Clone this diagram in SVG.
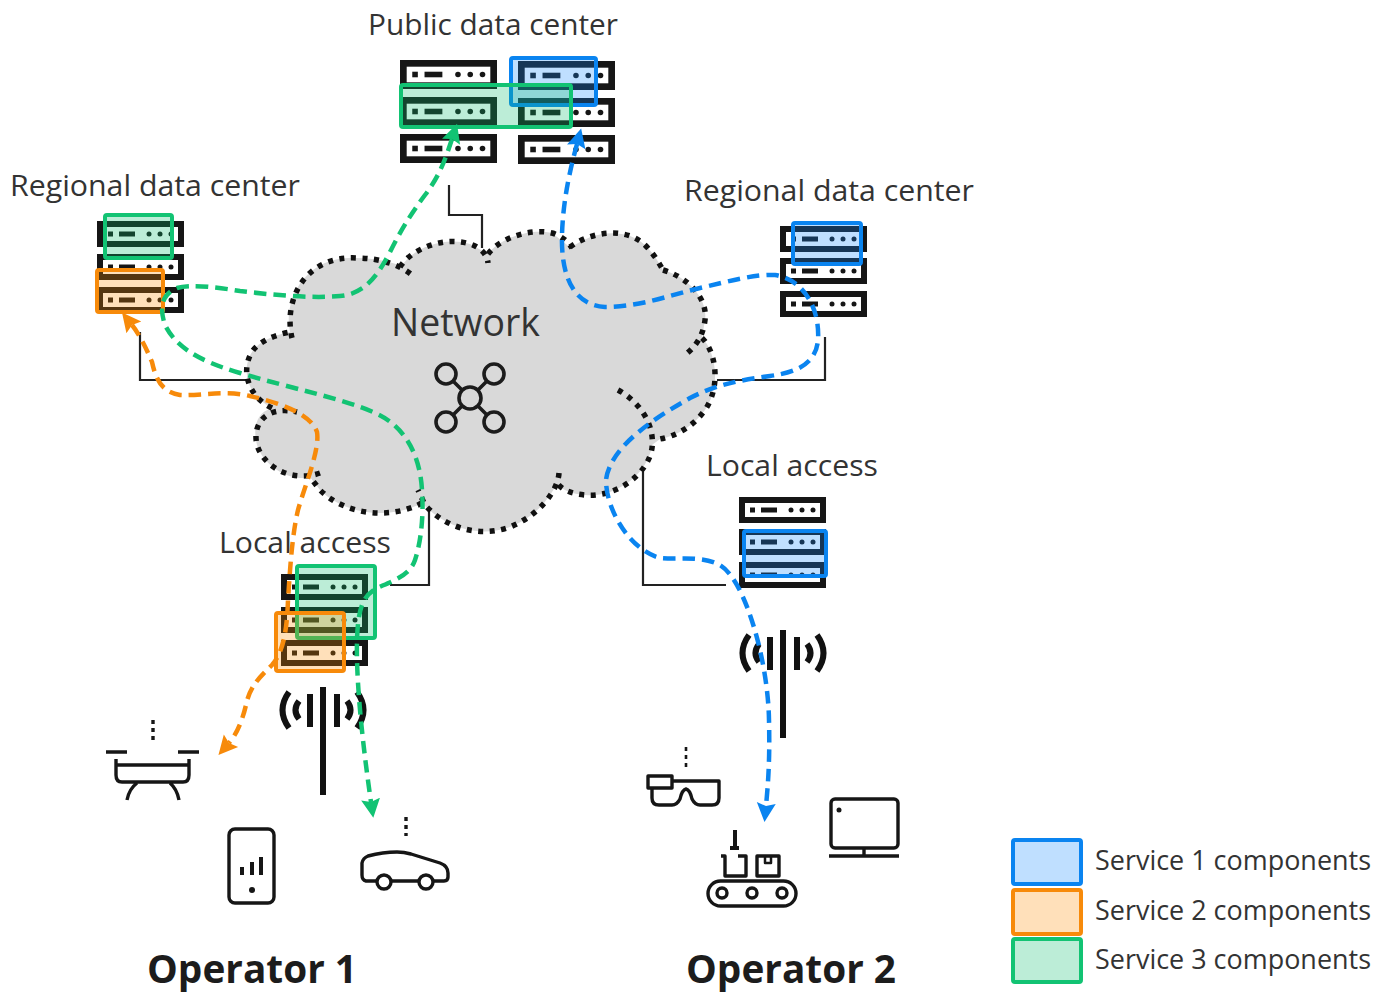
<svg xmlns="http://www.w3.org/2000/svg" xmlns:xlink="http://www.w3.org/1999/xlink" width="1390" height="1006" viewBox="0 0 1390 1006">
<style>
text{font-family:"Open Sans","Noto Sans","Liberation Sans",sans-serif;fill:#333}
.lbl{font-size:30px}
.leg{font-size:28px}
.op{font-size:40px;font-weight:700;fill:#1c1c1c}
.c1{fill:#1a8dff;fill-opacity:.28;stroke:#0a84f0;stroke-width:4}
.c2{fill:#ff8c00;fill-opacity:.27;stroke:#f78a0a;stroke-width:4}
.c3{fill:#10c070;fill-opacity:.28;stroke:#12c373;stroke-width:4}
.wire{fill:none;stroke:#222;stroke-width:2.2}
.dot{fill:none;stroke:#111;stroke-width:5.500;stroke-dasharray:5 6.500}
.d{fill:none;stroke-width:4.500;stroke-dasharray:12.500 7}
.ic{fill:none;stroke:#161616;stroke-width:3.4;stroke-linejoin:round}
.ant{fill:none;stroke:#111;stroke-width:6}
.f{fill:#161616}
</style>
<defs>
<symbol id="srv" viewBox="0 0 87 26" preserveAspectRatio="none">
<rect x="3" y="3" width="81" height="20" fill="#fff" stroke="#161616" stroke-width="6"/>
<rect x="11" y="10.500" width="5" height="5" fill="#161616"/>
<rect x="22" y="10.500" width="16" height="5" fill="#161616"/>
<circle cx="52" cy="13" r="2.500" fill="#161616"/><circle cx="63" cy="13" r="2.500" fill="#161616"/><circle cx="74" cy="13" r="2.500" fill="#161616"/>
</symbol>
<g id="antenna">
<path d="M0-23V85M-13-16V17M14-16V17"/>
<path d="M-24-9Q-31 0-24 9M-34-18Q-47 0-34 18M24-9Q31 0 24 9M34-18Q47 0 34 18"/>
</g>
<marker id="ab" markerUnits="userSpaceOnUse" markerWidth="24" markerHeight="24" refX="3" refY="11" orient="auto-start-reverse"><path d="M0 1.500L19 11L0 20.500L3 11Z" fill="#0a84f0"/></marker>
<marker id="ao" markerUnits="userSpaceOnUse" markerWidth="24" markerHeight="24" refX="3" refY="11" orient="auto-start-reverse"><path d="M0 1.500L19 11L0 20.500L3 11Z" fill="#f78a0a"/></marker>
<marker id="ag" markerUnits="userSpaceOnUse" markerWidth="24" markerHeight="24" refX="3" refY="11" orient="auto-start-reverse"><path d="M0 1.500L19 11L0 20.500L3 11Z" fill="#12c373"/></marker>
</defs>
<rect width="1390" height="1006" fill="#fff"/>

<g id="wires">
<path class="wire" d="M449 185V215H482V248"/>
<path class="wire" d="M140 332V380H248"/>
<path class="wire" d="M390 585H429V510"/>
<path class="wire" d="M643 472V585H726"/>
<path class="wire" d="M825 337V380H717"/>
</g>

<g id="network">
<path fill="#d9d9d9" d="M290 332C283 300 305 255 357 258C375 258 390 262 402 266C412 248 445 236 470 244L488 254C500 238 530 228 552 233L571 248C590 232 625 226 645 245C655 255 660 265 663 270C690 278 708 300 705 320L702 338C715 350 722 385 705 410C692 428 675 436 660 439L652 445C648 475 615 498 585 495C572 494 562 490 557 484C550 495 540 515 510 527C480 538 445 528 422 503C390 520 345 515 320 490L310 477C295 482 265 470 257 445C252 425 258 412 272 408C245 395 240 365 255 348C265 338 280 334 290 332Z"/>
<path class="dot" d="M292 338C283 300 305 255 357 258C380 258 400 265 412 275"/>
<path class="dot" d="M400 267C412 248 445 236 470 244C480 247 487 254 488 263"/>
<path class="dot" d="M488 254C500 238 530 228 552 233C562 236 568 242 572 248"/>
<path class="dot" d="M570 247C590 232 625 226 645 245C655 255 660 265 663 270"/>
<path class="dot" d="M663 270C690 278 708 300 705 320C703 337 695 347 685 355"/>
<path class="dot" d="M702 338C715 350 722 385 705 410C692 428 675 436 660 439"/>
<path class="dot" d="M618 390C640 402 655 425 652 448C648 475 615 498 585 495C572 494 562 490 557 483"/>
<path class="dot" d="M559 473C558 490 540 515 510 527C480 538 445 528 425 505L418 490"/>
<path class="dot" d="M422 503C390 520 345 515 320 490L310 477"/>
<path class="dot" d="M320 473C295 482 265 470 257 445C252 425 265 405 297 412"/>
<path class="dot" d="M272 408C245 395 240 365 255 348C265 338 280 334 290 332"/>
<text x="391" y="336" font-size="38" textLength="149" lengthAdjust="spacingAndGlyphs">Network</text>
<g fill="none" stroke="#1c1c1c" stroke-width="3.6">
<circle cx="470" cy="398" r="11"/><circle cx="446" cy="374" r="10"/><circle cx="494" cy="374" r="10"/><circle cx="446" cy="422" r="10"/><circle cx="494" cy="422" r="10"/>
<path d="M453 381L462 390M487 381L478 390M453 415L462 406M487 415L478 406"/>
</g>
</g>

<g id="public-dc">
<text class="lbl" x="368" y="35" textLength="250" lengthAdjust="spacingAndGlyphs">Public data center</text>
<use href="#srv" x="400" y="60" width="97" height="29"/><use href="#srv" x="400" y="97" width="97" height="29"/><use href="#srv" x="400" y="134" width="97" height="29"/>
<use href="#srv" x="518" y="61" width="97" height="29"/><use href="#srv" x="518" y="98" width="97" height="29"/><use href="#srv" x="518" y="135" width="97" height="29"/>
<rect class="c1" x="511" y="58" width="85" height="47" rx="2"/>
<rect class="c3" x="401" y="85" width="170" height="42" rx="2"/>
</g>

<g id="regional-left">
<text class="lbl" x="10" y="196" textLength="290" lengthAdjust="spacingAndGlyphs">Regional data center</text>
<use href="#srv" x="97" y="221" width="87" height="26"/><use href="#srv" x="97" y="254" width="87" height="26"/><use href="#srv" x="97" y="287" width="87" height="26"/>
<rect class="c3" x="105" y="215" width="67" height="43" rx="2"/>
<rect class="c2" x="97" y="270" width="66" height="42" rx="2"/>
</g>

<g id="regional-right">
<text class="lbl" x="684" y="201" textLength="290" lengthAdjust="spacingAndGlyphs">Regional data center</text>
<use href="#srv" x="780" y="226" width="87" height="26"/><use href="#srv" x="780" y="258" width="87" height="26"/><use href="#srv" x="780" y="291" width="87" height="26"/>
<rect class="c1" x="793" y="223" width="68" height="41" rx="2"/>
</g>

<g id="local-1">
<text class="lbl" x="219" y="553" textLength="172" lengthAdjust="spacingAndGlyphs">Local access</text>
<use href="#srv" x="281" y="574" width="87" height="26"/><use href="#srv" x="281" y="607" width="87" height="26"/><use href="#srv" x="281" y="640" width="87" height="26"/>
<rect class="c3" x="297" y="566" width="78" height="72" rx="2"/>
<rect class="c2" x="276" y="613" width="68" height="58" rx="2"/>
<use href="#antenna" x="323" y="710" class="ant"/>
</g>

<g id="local-2">
<text class="lbl" x="706" y="476" textLength="172" lengthAdjust="spacingAndGlyphs">Local access</text>
<use href="#srv" x="739" y="497" width="87" height="26"/><use href="#srv" x="739" y="529" width="87" height="26"/><use href="#srv" x="739" y="562" width="87" height="26"/>
<rect class="c1" x="744" y="531" width="82" height="45" rx="2"/>
<use href="#antenna" x="783" y="653" class="ant"/>
</g>

<g id="drone" class="ic">
<path d="M106 752H127M178 752H199M116 759V775Q116 782 122 782H183Q189 782 189 775V759M116 765H189M137 783Q129 789 127 800M170 783Q177 789 179 800"/>
<path d="M153 720V743" stroke-dasharray="4 4"/>
</g>
<g id="phone" class="ic">
<rect x="229" y="829" width="45" height="74" rx="6"/>
<path d="M242 867V875M252 862V875M261 857V875" stroke-width="4"/>
<circle cx="252" cy="890" r="3" class="f" stroke="none"/>
</g>
<g id="car" class="ic">
<path d="M377 881H366Q362 880 362 875V863Q363 858 368 856Q383 852 397 852Q404 852 411 854L440 863Q448 866 448 873V877Q448 881 444 881H433M391 881H419"/>
<circle cx="384" cy="882" r="7"/><circle cx="426" cy="882" r="7"/>
<path d="M406 817V836" stroke-dasharray="4 4"/>
</g>
<g id="glasses" class="ic">
<rect x="648" y="776" width="24" height="12"/>
<path d="M672 781H719V798Q719 805 712 805H700Q695 805 692 799Q690 790 686 789Q682 790 680 799Q677 805 672 805H659Q652 805 652 798V788"/>
<path d="M686 747V768" stroke-width="2.600" stroke-dasharray="4 4"/>
</g>
<g id="factory" class="ic">
<path d="M735 830V848M730 848H739" stroke-width="4"/>
<path d="M721 856H725V876H746V856H738"/>
<rect x="757" y="856" width="22" height="20"/>
<path d="M765 856V863H771V856" stroke-width="2.500"/>
<rect x="708" y="881" width="88" height="25" rx="12.500"/>
<circle cx="722" cy="893" r="5"/><circle cx="752" cy="893" r="5"/><circle cx="782" cy="893" r="5"/>
</g>
<g id="monitor" class="ic">
<rect x="831" y="799" width="67" height="49" rx="4"/>
<path d="M864 848V856M829 856H899"/>
<circle cx="839" cy="810" r="2.500" class="f" stroke="none"/>
</g>

<g id="connectors">
<path class="d" stroke="#12c373" marker-start="url(#ag)" marker-end="url(#ag)" d="M452 139C445 160 440 175 425 195C410 215 400 232 390 252C378 275 365 294 340 296C310 299 265 294 240 291C215 287 190 284 177 288C160 295 160 310 165 325C175 345 195 360 240 373C290 388 340 398 373 412C405 425 420 455 422 490C424 520 420 545 415 560C410 575 395 580 377 588C362 596 358 610 357 640C356 680 362 740 371 802"/>
<path class="d" stroke="#f78a0a" marker-start="url(#ao)" marker-end="url(#ao)" d="M132 325C140 335 147 350 152 362C156 380 162 392 180 395C200 396 225 390 250 396C275 402 310 412 317 432C320 450 305 485 298 510C292 535 290 570 288 600C287 625 285 650 272 665C262 675 250 685 246 705C242 722 236 735 229 743"/>
<path class="d" stroke="#0a84f0" marker-start="url(#ab)" marker-end="url(#ab)" d="M577 144C570 170 563 200 562 235C561 270 570 305 605 307C640 307 670 295 700 288C730 281 755 274 775 275C805 280 820 310 818 340C816 362 800 372 770 376C740 380 715 385 690 398C660 415 610 445 606 480C606 510 630 550 660 558C680 560 700 555 720 565C745 580 768 660 769 720C770 760 768 785 766 806"/>
</g>

<text class="op" x="147" y="983" textLength="210" lengthAdjust="spacingAndGlyphs">Operator 1</text>
<text class="op" x="686" y="983" textLength="210" lengthAdjust="spacingAndGlyphs">Operator 2</text>

<g id="legend">
<rect class="c1" x="1013" y="840" width="68" height="44" rx="2"/>
<rect class="c2" x="1013" y="890" width="68" height="44" rx="2"/>
<rect class="c3" x="1013" y="939" width="68" height="43" rx="2"/>
<text class="leg" x="1095" y="870" textLength="276" lengthAdjust="spacingAndGlyphs">Service 1 components</text>
<text class="leg" x="1095" y="920" textLength="276" lengthAdjust="spacingAndGlyphs">Service 2 components</text>
<text class="leg" x="1095" y="969" textLength="276" lengthAdjust="spacingAndGlyphs">Service 3 components</text>
</g>
</svg>
